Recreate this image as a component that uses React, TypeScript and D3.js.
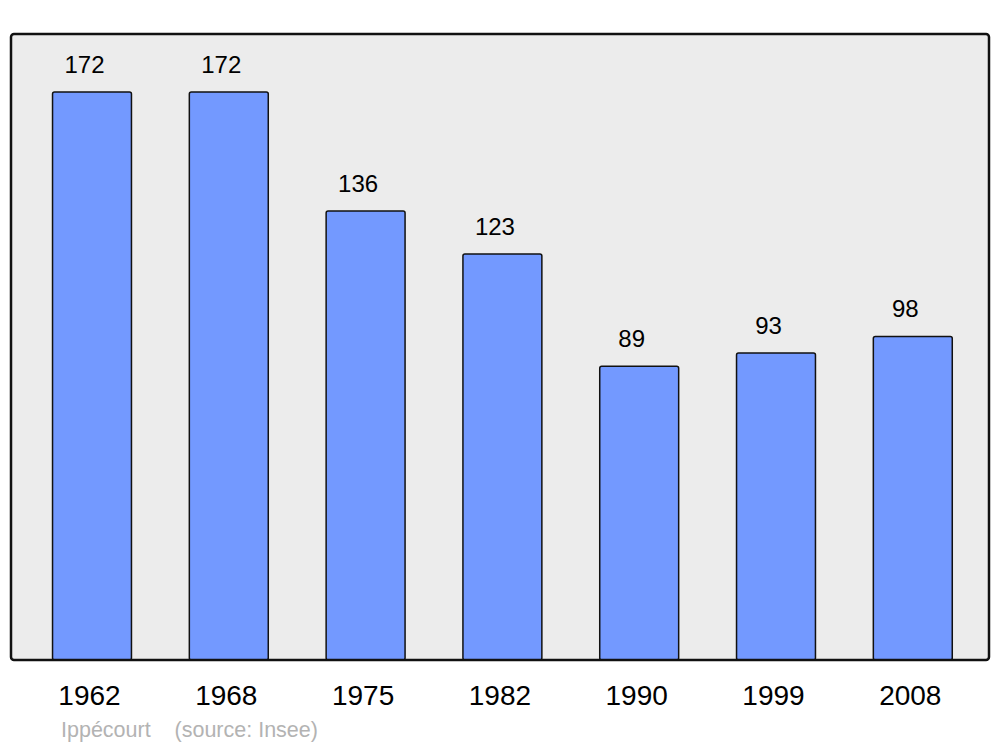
import React from "react";
import * as d3 from "d3";

const years = ["1962", "1968", "1975", "1982", "1990", "1999", "2008"];
const population = [172, 172, 136, 123, 89, 93, 98];
const townName = "Ippécourt";
const sourceText = "(source: Insee)";

export default function App() {
  const W = 1000;
  const H = 747;
  const frame = { x0: 11, y0: 34, x1: 989, y1: 660 };
  const x = d3.scaleBand<string>().domain(years).range([23.6, 981.2]).paddingInner(0.423).paddingOuter(0.2115);
  const y = d3.scaleLinear().domain([0, 189.6]).range([frame.y1, frame.y0]);
  const font = "'Liberation Sans', Arial, sans-serif";
  return (
    <svg width={W} height={H} style={{ position: "absolute", left: 0, top: 0, background: "#fff" }}>
      <rect x={frame.x0} y={frame.y0} width={frame.x1 - frame.x0} height={frame.y1 - frame.y0} rx={3} fill="#ececec" stroke="none" />
      {years.map((yr, i) => (
        <g key={yr}>
          <rect
            x={x(yr)!}
            y={y(population[i])}
            width={x.bandwidth()}
            height={frame.y1 - y(population[i])}
            rx={2}
            fill="#7399ff"
            stroke="#111"
            strokeWidth={1.5}
          />
          <text x={x(yr)! + x.bandwidth() / 2 - 7.5} y={y(population[i]) - 19} textAnchor="middle" fontFamily={font} fontSize={24} fill="#000">
            {population[i]}
          </text>
          <text x={x(yr)! + x.bandwidth() / 2 - 2.5} y={705} textAnchor="middle" fontFamily={font} fontSize={28} fill="#000">
            {yr}
          </text>
        </g>
      ))}
      <rect x={frame.x0} y={frame.y0} width={frame.x1 - frame.x0} height={frame.y1 - frame.y0} rx={3} fill="none" stroke="#111" strokeWidth={2.5} />
      <text x={61} y={737} fontFamily={font} fontSize={21.5} fill="#b3b3b3" xmlSpace="preserve">
        {townName + "    " + sourceText}
      </text>
    </svg>
  );
}
